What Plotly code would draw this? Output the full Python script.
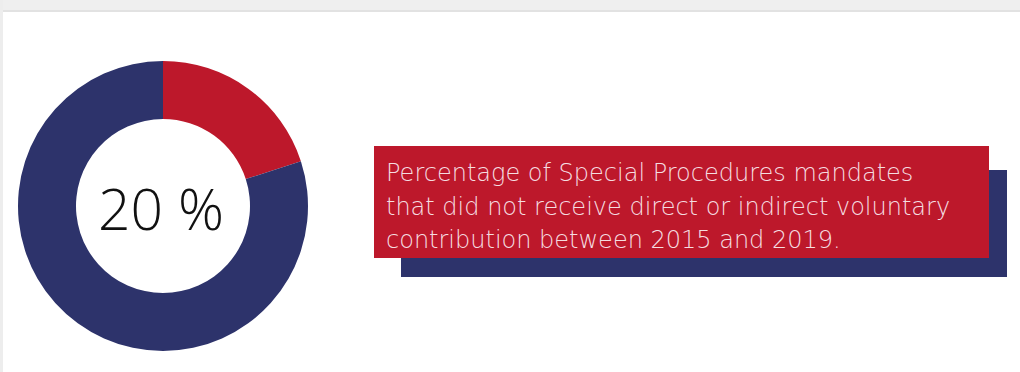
import plotly.graph_objects as go

# Share of mandates with / without voluntary contributions (2015-2019)
labels = ["No voluntary contribution", "Received contribution"]
values = [20, 80]
colors = ["#BD182B", "#2D336B"]

caption_lines = [
    "Percentage of Special Procedures mandates",
    "that did not receive direct or indirect voluntary",
    "contribution between 2015 and 2019.",
]

W, H = 1020, 372


def px_x(x):
    return x / W


def px_y(y):
    return 1 - y / H


fig = go.Figure()

fig.add_trace(go.Pie(
    labels=labels,
    values=values,
    marker=dict(colors=colors, line=dict(width=0)),
    hole=0.6,
    sort=False,
    direction="clockwise",
    rotation=0,
    textinfo="none",
    hoverinfo="label+percent",
    showlegend=False,
    domain=dict(x=[px_x(18), px_x(308)], y=[px_y(351), px_y(61)]),
))

share = values[0] / sum(values) * 100
fig.add_annotation(
    x=px_x(161), y=px_y(208), xref="paper", yref="paper",
    text=f"{share:.0f} %", showarrow=False,
    font=dict(family="Open Sans", size=57, color="#111111", weight=300),
    xanchor="center", yanchor="middle",
)

shapes = [
    # page frame: grey band along the top and a thin strip on the left
    dict(type="rect", xref="paper", yref="paper", x0=0, x1=1,
         y0=px_y(10), y1=1, fillcolor="#EFEFEF", line=dict(width=0), layer="below"),
    dict(type="rect", xref="paper", yref="paper", x0=0, x1=1,
         y0=px_y(12), y1=px_y(10), fillcolor="#E2E2E2", line=dict(width=0), layer="below"),
    dict(type="rect", xref="paper", yref="paper", x0=0, x1=px_x(3),
         y0=0, y1=1, fillcolor="#EDEDED", line=dict(width=0), layer="below"),
    # offset navy block behind the caption
    dict(type="rect", xref="paper", yref="paper", x0=px_x(401), x1=px_x(1007),
         y0=px_y(277), y1=px_y(170), fillcolor="#2D336B", line=dict(width=0)),
    # red caption box
    dict(type="rect", xref="paper", yref="paper", x0=px_x(374), x1=px_x(989),
         y0=px_y(258), y1=px_y(146), fillcolor="#BD182B", line=dict(width=0)),
]

line_y = [173, 207, 240]
for txt, y in zip(caption_lines, line_y):
    fig.add_annotation(
        x=px_x(384), y=px_y(y), xref="paper", yref="paper",
        text=txt, showarrow=False, xanchor="left", yanchor="middle",
        font=dict(family="DejaVu Sans", size=24, color="#F5DDE0", weight=200),
    )

fig.update_layout(
    width=W, height=H,
    margin=dict(l=0, r=0, t=0, b=0),
    paper_bgcolor="white",
    plot_bgcolor="white",
    shapes=shapes,
)

fig.write_html("out.html")
